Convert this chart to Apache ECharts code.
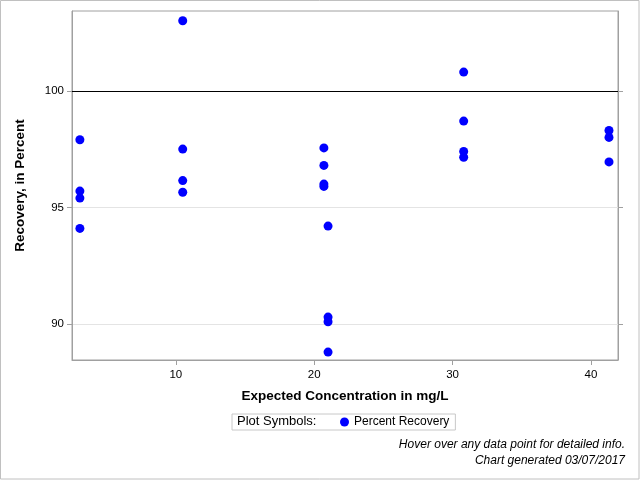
<!DOCTYPE html>
<html>
<head>
<meta charset="utf-8">
<script src="https://cdn.jsdelivr.net/npm/echarts@6/dist/echarts.min.js"></script>
<style>html,body{margin:0;padding:0;background:#fff}#c{width:640px;height:480px}</style>
</head>
<body>
<div id="c"></div>
<script>
const expectedConc = [3.07,3.07,3.07,3.07, 10.5,10.5,10.5,10.5, 20.7,20.7,20.7,20.7, 21.0,21.0,21.0,21.0, 30.8,30.8,30.8,30.8, 41.3,41.3,41.3];
const recovery     = [97.9,95.7,95.4,94.1, 103.0,97.5,96.15,95.65, 97.55,96.8,96.0,95.9, 94.2,90.3,90.1,88.8, 100.8,98.7,97.4,97.15, 98.3,98.0,96.95];
const xTicks = [10,20,30,40];
const yTicks = [90,95,100];
const referenceLine = 100;

const points = expectedConc.map((x,i)=>[x, recovery[i]]);
const fnt = '"Liberation Sans", Arial, sans-serif';

const chart = echarts.init(document.getElementById('c'), null, {renderer:'canvas'});
chart.setOption({
  animation:false,
  backgroundColor:'#fff',
  grid:{left:72, right:22, top:11, bottom:120, show:true, borderColor:'#a0a0a0', borderWidth:1},
  xAxis:{
    type:'value', min:2.5, max:41.95, minInterval:10, maxInterval:10, splitNumber:4,
    name:'Expected Concentration in mg/L', nameLocation:'middle', nameGap:29,
    nameTextStyle:{fontFamily:fnt, fontSize:13.5, fontWeight:'bold', color:'#000'},
    axisLine:{show:true, lineStyle:{color:'#a0a0a0'}},
    axisTick:{show:true, length:5, lineStyle:{color:'#a0a0a0'},
      customValues: xTicks},
    axisLabel:{fontFamily:fnt, fontSize:11.5, color:'#000', margin:9,
      customValues: xTicks,
      formatter:v=> xTicks.includes(Math.round(v*1000)/1000) ? String(v) : ''},
    splitLine:{show:false}
  },
  yAxis:[{
    type:'value', min:88.46, max:103.42, minInterval:5, maxInterval:5, splitNumber:3,
    name:'Recovery, in Percent', nameLocation:'middle', nameGap:45, nameRotate:90,
    nameTextStyle:{fontFamily:fnt, fontSize:13.5, fontWeight:'bold', color:'#000'},
    axisLine:{show:true, lineStyle:{color:'#a0a0a0'}},
    axisTick:{show:true, length:5, lineStyle:{color:'#a0a0a0'}, customValues: yTicks},
    axisLabel:{fontFamily:fnt, fontSize:11.5, color:'#000', margin:8, customValues: yTicks,
      formatter:v=> yTicks.includes(Math.round(v*1000)/1000) ? String(v) : ''},
    splitLine:{show:true, lineStyle:{color:'#e4e4e4', width:1}, customValues: yTicks}
  },{
    type:'value', min:88.46, max:103.42, minInterval:5, maxInterval:5, splitNumber:3, position:'right',
    axisLine:{show:true, lineStyle:{color:'#a0a0a0'}},
    axisTick:{show:true, length:5, lineStyle:{color:'#a0a0a0'}, customValues: yTicks},
    axisLabel:{show:false},
    splitLine:{show:false}
  }],
  legend:{
    left:232, top:414, orient:'horizontal',
    padding:[2,6,2,108], itemWidth:9, itemHeight:9, itemGap:0,
    borderColor:'#c8c8c8', borderWidth:1,
    textStyle:{fontFamily:fnt, fontSize:12, color:'#000'},
    data:[{name:'Percent Recovery', icon:'circle'}]
  },
  graphic:[
    {type:'rect', position:[0,0], shape:{x:0.5,y:0.5,width:638.5,height:478.5}, style:{fill:'none', stroke:'#c0c0c0', lineWidth:1}, silent:true, z:100},
    {type:'text', left:237, top:415, style:{text:'Plot Symbols:', font:'13px '+fnt, fill:'#000'}},
    {type:'text', right:15, top:439, style:{text:'Hover over any data point for detailed info.', font:'italic 12px '+fnt, fill:'#000'}},
    {type:'text', right:15, top:455, style:{text:'Chart generated 03/07/2017', font:'italic 12px '+fnt, fill:'#000'}}
  ],
  series:[{
    name:'Percent Recovery', type:'scatter', data:points, symbol:'circle', symbolSize:9,
    itemStyle:{color:'#0000ff', opacity:1},
    markLine:{silent:true, symbol:'none', label:{show:false},
      lineStyle:{color:'#000', width:1, type:'solid'},
      data:[{yAxis:referenceLine}]}
  }]
});
</script>
</body>
</html>
